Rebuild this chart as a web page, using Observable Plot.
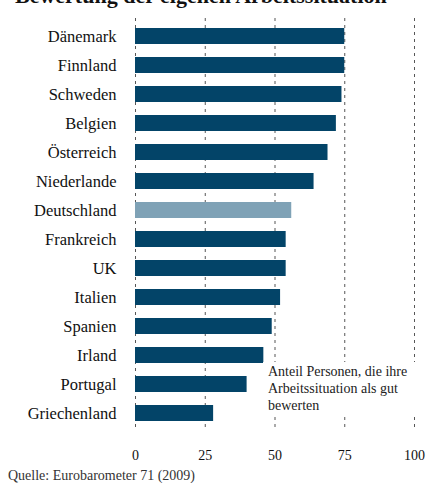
<!DOCTYPE html>
<html>
<head>
<meta charset="utf-8">
<script src="https://cdn.jsdelivr.net/npm/d3@7"></script>
<script src="https://cdn.jsdelivr.net/npm/@observablehq/plot@0.6"></script>
<style>
  html, body { margin: 0; padding: 0; background: #fff; }
  #wrap { position: relative; width: 442px; height: 483px; overflow: hidden; font-family: "Liberation Serif", "DejaVu Serif", serif; }
  #title { position: absolute; left: 15px; top: -15px; font-size: 22px; font-weight: bold; line-height: 22px; white-space: nowrap; color: #111; }
  #chart { position: absolute; left: 0; top: 0; }
  #chart svg text { font-family: "Liberation Serif", "DejaVu Serif", serif; }
  #note { position: absolute; left: 263px; top: 362px; width: 170px; height: 52px; background: #fff; font-size: 14px; line-height: 17px; color: #222; padding-left: 5px; box-sizing: border-box; padding-top: 1px; }
  #caption { position: absolute; left: 8px; top: 468px; font-size: 14px; color: #333; white-space: nowrap; }
</style>
</head>
<body>
<div id="wrap">
  <div id="chart"></div>
  <div id="title">Bewertung der eigenen Arbeitssituation</div>
  <div id="note">Anteil Personen, die ihre Arbeitssituation als gut bewerten</div>
  <div id="caption">Quelle: Eurobarometer 71 (2009)</div>
</div>
<script>
const countries = ["Dänemark","Finnland","Schweden","Belgien","Österreich","Niederlande","Deutschland","Frankreich","UK","Italien","Spanien","Irland","Portugal","Griechenland"];
const values = [75, 75, 74, 72, 69, 64, 56, 54, 54, 52, 49, 46, 40, 28];
const highlight = "Deutschland";
const xTicks = [0, 25, 50, 75, 100];

const data = countries.map((c, i) => ({country: c, value: values[i]}));

const chart = Plot.plot({
  width: 442,
  height: 465,
  marginTop: 18,
  marginBottom: 35,
  marginLeft: 135,
  marginRight: 28,
  style: {background: "#fff", color: "#111"},
  x: {domain: [0, 100], ticks: xTicks, label: null},
  y: {domain: countries, label: null, paddingInner: 0.45, paddingOuter: 0.225},
  marks: [
    Plot.gridX(xTicks, {stroke: "#444", strokeOpacity: 0.9, strokeDasharray: "3,4", strokeWidth: 1}),
    Plot.barX(data, {x: "value", y: "country", fill: d => d.country === highlight ? "#7fa2b6" : "#034468"}),
    Plot.axisY({tickSize: 0, tickPadding: 19, fontSize: 16.5, fill: "#111"}),
    Plot.axisX({ticks: xTicks, tickSize: 0, tickPadding: 20, fontSize: 14, fill: "#111", label: null})
  ]
});
document.getElementById("chart").appendChild(chart);
</script>
</body>
</html>
